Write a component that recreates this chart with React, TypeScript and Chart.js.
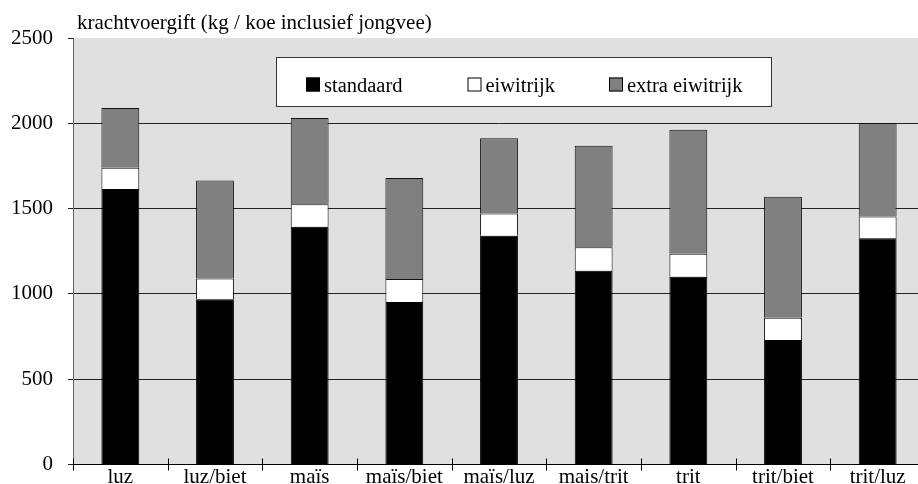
import React, { useEffect, useRef } from "react";
import { Chart, registerables } from "chart.js";

Chart.register(...registerables);

// Krachtvoergift per bedrijfssysteem, gestapeld per soort krachtvoer
const categories = ["luz", "luz/biet", "maïs", "maïs/biet", "maïs/luz", "mais/trit", "trit", "trit/biet", "trit/luz"];
const standaard = [1615, 968, 1394, 952, 1341, 1136, 1101, 730, 1326];
const eiwitrijk = [125, 123, 131, 135, 131, 137, 135, 130, 127];
const extraEiwitrijk = [350, 573, 506, 592, 440, 596, 726, 710, 549];
const seriesLabels = ["standaard", "eiwitrijk", "extra eiwitrijk"];
const yTicks = [0, 500, 1000, 1500, 2000, 2500];
const titleText = "krachtvoergift (kg / koe inclusief jongvee)";

const FONT = "'Liberation Serif', 'Times New Roman', serif";

const decorPlugin = {
  id: "decor",
  beforeDraw(chart: any) {
    const { ctx, chartArea } = chart;
    ctx.save();
    ctx.fillStyle = "#e0e0e0";
    ctx.fillRect(chartArea.left, chartArea.top, chartArea.right - chartArea.left, chartArea.bottom - chartArea.top);
    ctx.restore();
  },
  afterDraw(chart: any) {
    const { ctx, chartArea } = chart;
    const x = chart.scales.x;
    ctx.save();

    // category separator ticks crossing the bottom axis
    const half = (x.getPixelForValue(1) - x.getPixelForValue(0)) / 2;
    ctx.strokeStyle = "#000";
    ctx.lineWidth = 1;
    for (let i = 0; i < categories.length; i++) {
      const px = Math.round(x.getPixelForValue(i) - half) + 0.5;
      ctx.beginPath();
      ctx.moveTo(px, chartArea.bottom - 6);
      ctx.lineTo(px, chartArea.bottom + 6);
      ctx.stroke();
    }

    // category labels under the axis
    ctx.fillStyle = "#000";
    ctx.font = `21px ${FONT}`;
    ctx.textAlign = "center";
    ctx.textBaseline = "alphabetic";
    chart.data.labels.forEach((lab: string, i: number) => {
      ctx.fillText(lab, x.getPixelForValue(i), chartArea.bottom + 18.5);
    });

    // axis title above the plot
    ctx.textAlign = "left";
    ctx.fillText(titleText, chartArea.left + 4, 29);

    // legend box inside the plot
    const bx = chartArea.left + 203;
    const by = chartArea.top + 19;
    const bw = 495;
    const bh = 49;
    ctx.fillStyle = "#fff";
    ctx.fillRect(bx, by, bw, bh);
    ctx.strokeStyle = "#333";
    ctx.strokeRect(bx + 0.5, by + 0.5, bw, bh);

    const offsets = [30, 191.5, 333];
    const baseline = by + 34.5;
    ctx.font = `20.5px ${FONT}`;
    chart.data.datasets.forEach((ds: any, i: number) => {
      const sx = bx + offsets[i];
      ctx.fillStyle = ds.backgroundColor;
      ctx.fillRect(sx, baseline - 14, 14, 14);
      ctx.strokeStyle = "#000";
      ctx.strokeRect(sx + 0.5, baseline - 13.5, 13, 13);
      ctx.fillStyle = "#000";
      ctx.fillText(ds.label, sx + 18, baseline);
    });
    ctx.restore();
  },
};

export default function App() {
  const ref = useRef<HTMLCanvasElement | null>(null);

  useEffect(() => {
    if (!ref.current) return;
    Chart.defaults.font.family = FONT;
    const chart = new Chart(ref.current, {
      type: "bar",
      data: {
        labels: categories,
        datasets: [
          { label: seriesLabels[0], data: standaard, backgroundColor: "#000000", borderColor: "#000", borderWidth: 1 },
          { label: seriesLabels[1], data: eiwitrijk, backgroundColor: "#ffffff", borderColor: "#111", borderWidth: 1 },
          { label: seriesLabels[2], data: extraEiwitrijk, backgroundColor: "#808080", borderColor: "#111", borderWidth: 1 },
        ],
      },
      options: {
        responsive: false,
        animation: false,
        devicePixelRatio: 1,
        layout: { padding: { top: 38, left: 0, right: 0, bottom: 0 } },
        plugins: { legend: { display: false }, tooltip: { enabled: false }, title: { display: false } },
        datasets: { bar: { barPercentage: 0.4, categoryPercentage: 1 } },
        scales: {
          x: {
            stacked: true,
            grid: { display: false, drawTicks: false },
            border: { display: true, color: "#000", width: 1 },
            ticks: { display: false },
            afterFit(scale: any) {
              scale.height = 19.5;
              scale.paddingLeft = 0;
              scale.paddingRight = 0;
            },
          },
          y: {
            stacked: true,
            min: 0,
            max: 2500,
            afterBuildTicks(scale: any) {
              scale.ticks = yTicks.map((v) => ({ value: v }));
            },
            grid: {
              color: (c: any) => (c.tick && c.tick.value === 2500 ? "rgba(0,0,0,0)" : "#222"),
              tickColor: "#222",
              tickLength: 5,
              lineWidth: 1,
            },
            border: { display: true, color: "#666", width: 1 },
            ticks: {
              color: "#000",
              font: { size: 21, family: FONT },
              padding: 15,
              callback: (v: any) => String(v),
            },
            afterFit(scale: any) {
              scale.width = 73;
              scale.paddingTop = 0;
              scale.paddingBottom = 0;
            },
          },
        },
      },
      plugins: [decorPlugin],
    });
    return () => chart.destroy();
  }, []);

  return (
    <div style={{ position: "fixed", left: 0, top: 0, width: 918, height: 484, overflow: "hidden", background: "#fff" }}>
      <canvas ref={ref} width={925} height={484} style={{ display: "block", width: 925, height: 484 }} />
    </div>
  );
}
